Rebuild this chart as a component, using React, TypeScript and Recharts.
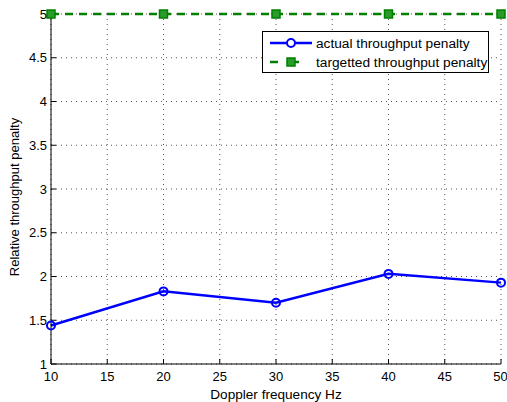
import {
  LineChart,
  Line,
  XAxis,
  YAxis,
  CartesianGrid,
} from 'recharts'

// Doppler frequency (Hz)
const dopplerHz = [10, 20, 30, 40, 50]
const actualPenalty = [1.44, 1.83, 1.7, 2.03, 1.93]
const targetPenalty = [5, 5, 5, 5, 5]

const xTicks = [10, 15, 20, 25, 30, 35, 40, 45, 50]
const yTicks = [1, 1.5, 2, 2.5, 3, 3.5, 4, 4.5, 5]

const data = dopplerHz.map((f, i) => ({
  f,
  actual: actualPenalty[i],
  target: targetPenalty[i],
}))

const FONT = 'Liberation Sans, Arial, Helvetica, sans-serif'
const BLUE = '#0000ff'
const GREEN = '#008000'
const tickStyle = { fill: '#000', fontSize: 13, fontFamily: FONT }

const CircleDot = (p: any) => (
  <circle key={`c${p.index}`} cx={p.cx} cy={p.cy} r={4} stroke={BLUE} strokeWidth={2} fill="none" />
)

const SquareDot = (p: any) => (
  <rect
    key={`s${p.index}`}
    x={p.cx - 4}
    y={p.cy - 4}
    width={8}
    height={8}
    stroke={GREEN}
    strokeWidth={1.5}
    fill="#2a9a2a"
  />
)

// y label, a bit below the plot centre like the matlab figure
const YLabel = (p: any) => {
  const vb = p.viewBox || {}
  const cy = (vb.y ?? 14) + (vb.height ?? 350) / 2 + 8
  return (
    <text
      x={14}
      y={cy}
      transform={`rotate(-90, 14, ${cy})`}
      textAnchor="middle"
      dominantBaseline="central"
      fontSize={13}
      fontFamily={FONT}
      fill="#000"
    >
      Relative throughput penalty
    </text>
  )
}

function LegendBox() {
  return (
    <div
      style={{
        position: 'absolute',
        left: 262,
        top: 31,
        width: 227,
        height: 42,
        boxSizing: 'border-box',
        border: '1px solid #000',
        background: '#fff',
      }}
    >
      <svg width={225} height={40} style={{ display: 'block' }}>
        <line x1={7} y1={11} x2={49} y2={11} stroke={BLUE} strokeWidth={2.5} />
        <circle cx={28} cy={11} r={4} stroke={BLUE} strokeWidth={2} fill="#fff" />
        <text x={53} y={16} fontSize={13.7} fontFamily={FONT}>actual throughput penalty</text>
        <line x1={7} y1={30} x2={49} y2={30} stroke={GREEN} strokeWidth={2.5} strokeDasharray="8 13" />
        <rect x={24} y={26} width={8} height={8} stroke={GREEN} strokeWidth={1.5} fill="#2a9a2a" />
        <text x={53} y={35} fontSize={13.7} fontFamily={FONT}>targetted throughput penalty</text>
      </svg>
    </div>
  )
}

export default function App() {
  return (
    <div style={{ position: 'absolute', left: 0, top: 0, width: 507, height: 402, background: '#fff' }}>
      <LineChart
        width={507}
        height={402}
        data={data}
        margin={{ top: 14, right: 6, bottom: 0, left: 0 }}
      >
        <CartesianGrid stroke="#555" strokeDasharray="1 4" />
        <XAxis
          dataKey="f"
          type="number"
          domain={[10, 50]}
          ticks={xTicks}
          height={38}
          tick={tickStyle}
          tickSize={-5}
          tickMargin={13}
          stroke="#000"
          label={{
            value: 'Doppler frequency Hz',
            position: 'insideBottom',
            offset: 3,
            style: { fill: '#000', fontSize: 13.6, fontFamily: FONT },
          }}
        />
        <XAxis
          xAxisId="top"
          dataKey="f"
          type="number"
          orientation="top"
          domain={[10, 50]}
          ticks={xTicks}
          height={0}
          tick={false}
          tickSize={-5}
          stroke="#000"
        />
        <YAxis
          type="number"
          domain={[1, 5]}
          ticks={yTicks}
          width={51}
          tick={tickStyle}
          tickSize={-5}
          tickMargin={9}
          stroke="#000"
          label={YLabel}
        />
        <YAxis
          yAxisId="right"
          type="number"
          orientation="right"
          domain={[1, 5]}
          ticks={yTicks}
          width={0}
          tick={false}
          tickSize={-5}
          stroke="#000"
        />
        <Line
          dataKey="actual"
          stroke={BLUE}
          strokeWidth={2.5}
          dot={CircleDot}
          activeDot={false}
          isAnimationActive={false}
        />
        <Line
          dataKey="target"
          stroke={GREEN}
          strokeWidth={2.5}
          strokeDasharray="8 6"
          dot={SquareDot}
          activeDot={false}
          isAnimationActive={false}
        />
      </LineChart>
      <LegendBox />
    </div>
  )
}
